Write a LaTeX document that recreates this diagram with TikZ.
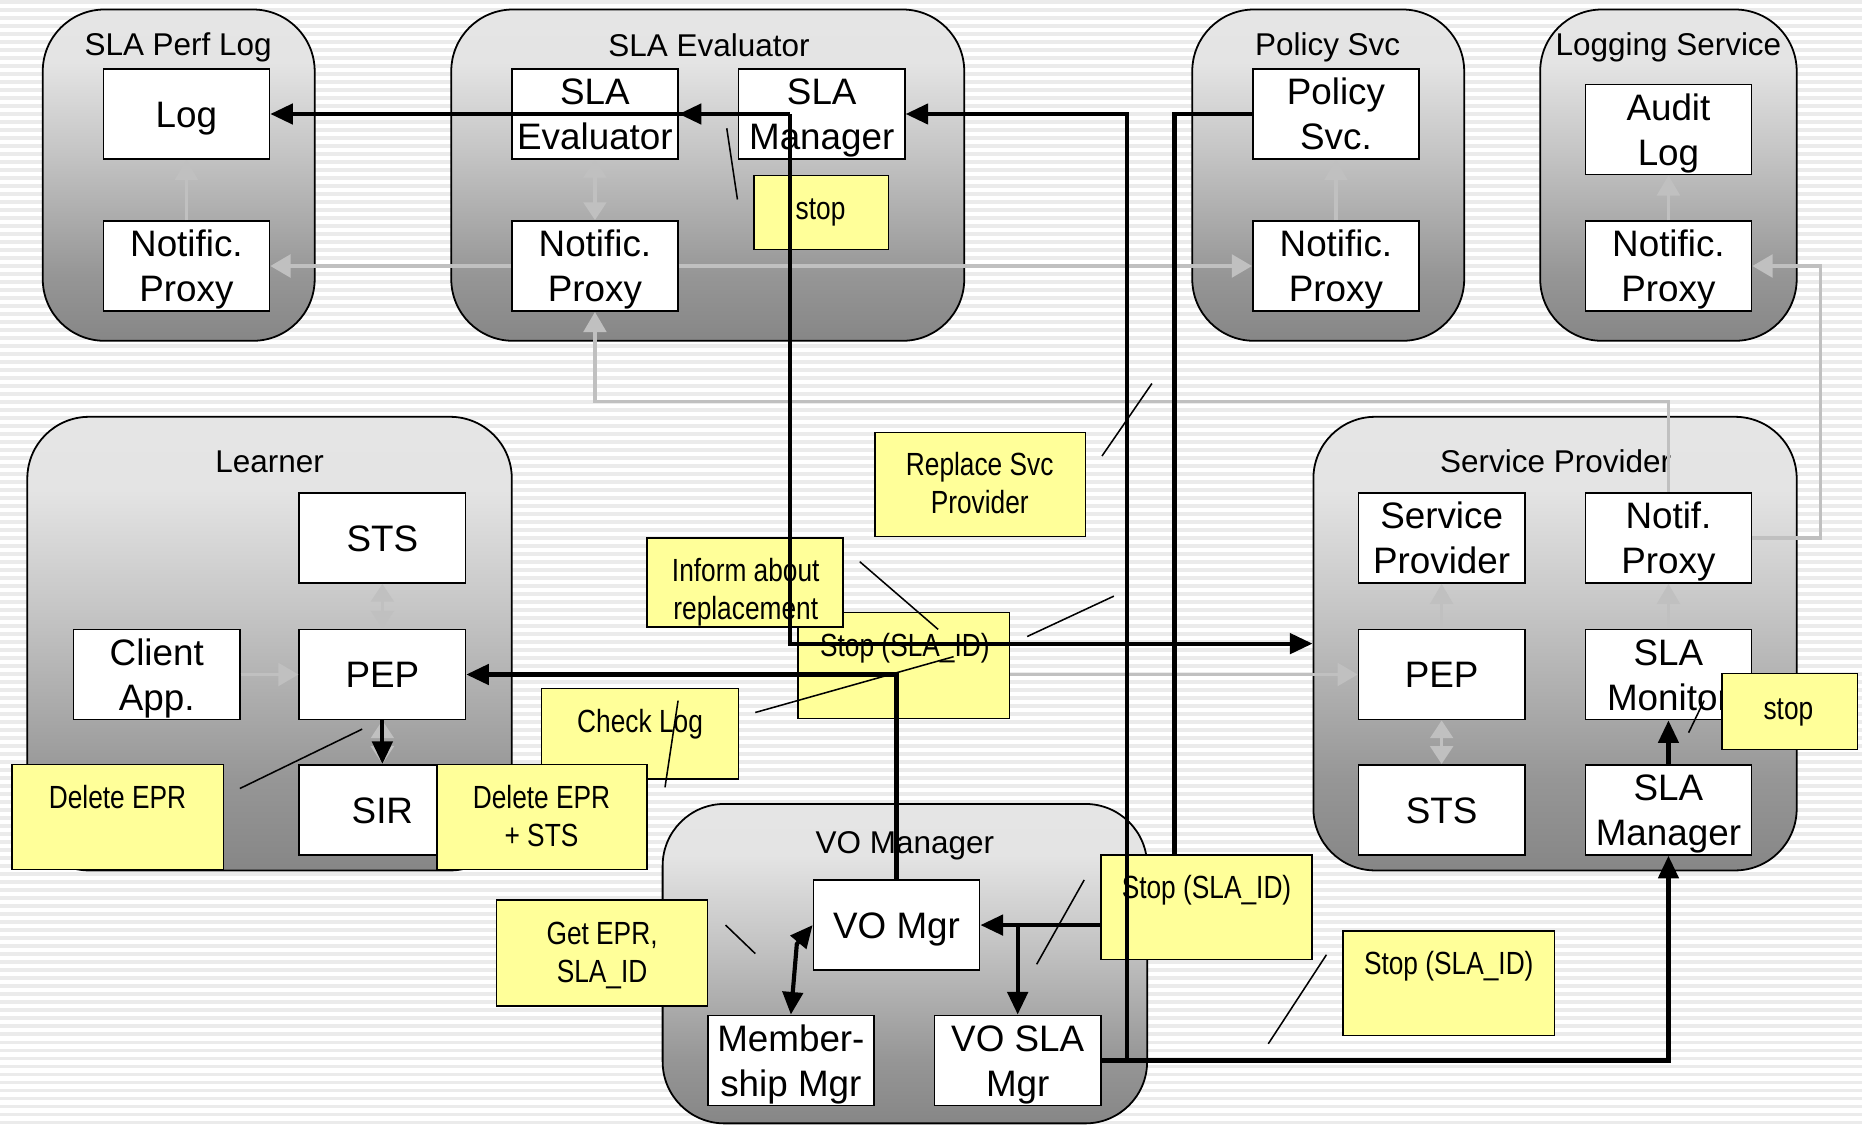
\documentclass[tikz,border=0pt]{standalone}
\usepackage{fontspec}
\setmainfont{Liberation Sans}
\newfontfamily\narrowfont{Liberation Sans}[FakeStretch=0.82]
\usetikzlibrary{arrows.meta}

\definecolor{notefill}{HTML}{FFFF99}
\definecolor{conn}{HTML}{C0C0C0}
\definecolor{stripe}{HTML}{EBEBEB}
\definecolor{csA}{HTML}{6E6E6E}
\definecolor{csB}{HTML}{727272}
\definecolor{csC}{HTML}{969696}
\definecolor{csD}{HTML}{C6C6C6}
\definecolor{csE}{HTML}{E4E4E4}
\definecolor{csF}{HTML}{E8E8E8}
\pgfdeclareverticalshading{contshade}{100bp}{color(0bp)=(csA); color(12bp)=(csB); color(35bp)=(csC); color(54bp)=(csD); color(67bp)=(csE); color(100bp)=(csF)}

\tikzset{
  cont/.style={draw, line width=1.5pt, rounded corners=52pt, shade, shading=contshade, inner sep=0pt},
  box/.style={draw, fill=white, line width=1.3pt, minimum width=140pt, minimum height=76pt,
    inner sep=0pt, align=center, font=\fontsize{31pt}{38pt}\selectfont,
    text height=22.2pt, text depth=0pt},
  boxtwo/.style={box, text height=60.2pt},
  ctitle/.style={inner sep=0pt, font=\fontsize{26.5pt}{32pt}\selectfont, text height=19pt, text depth=0pt},
  note/.style={draw, fill=notefill, line width=1.2pt, inner sep=0pt},
  notetext/.style={inner sep=0pt, align=center, font=\narrowfont\fontsize{27pt}{32pt}\selectfont,
    text height=19.3pt, text depth=0pt},
  notetexttwo/.style={notetext, text height=51.3pt},
  blk/.style={draw=black, line width=3.5pt},
  blkarrow/.style={blk, -{Triangle[length=19pt,width=17pt]}},
  blktwo/.style={blk, {Triangle[length=19pt,width=17pt]}-{Triangle[length=19pt,width=17pt]}},
  gry/.style={draw=conn, line width=3pt},
  gryarrow/.style={gry, -{Triangle[length=17pt,width=19pt]}},
  grytwo/.style={gry, {Triangle[length=15pt,width=19pt]}-{Triangle[length=15pt,width=19pt]}},
  callout/.style={draw=black, line width=1.3pt},
}

\begin{document}
\begin{tikzpicture}[x=1pt,y=-1pt]
  % striped backdrop
  \fill[white] (0,0) rectangle (1568,947);
  \foreach \i in {0,...,140} {
    \fill[stripe] (0,{\i*6.74}) rectangle (1568,{\i*6.74+3.3});
  }
  \useasboundingbox (0,0) rectangle (1568,947);

  % containers
  \node[cont, minimum width=229pt, minimum height=279pt] (cperf) at (150.5,147.5) {};
  \node[cont, minimum width=432pt, minimum height=279pt] (ceval) at (596,147.5) {};
  \node[cont, minimum width=229pt, minimum height=279pt] (cpol) at (1118.5,147.5) {};
  \node[cont, minimum width=216pt, minimum height=279pt] (clog) at (1405,147.5) {};
  \node[cont, minimum width=408pt, minimum height=382pt] (clrn) at (227,542) {};
  \node[cont, minimum width=407pt, minimum height=382pt] (csp) at (1309.5,542) {};
  \node[cont, minimum width=408pt, minimum height=269pt] (cvo) at (762,811.5) {};

  \node[ctitle] (tperf) at (150,37) {SLA Perf Log};
  \node[ctitle] (teval) at (597,38) {SLA Evaluator};
  \node[ctitle] (tpol) at (1118,37) {Policy Svc};
  \node[ctitle] (tlog) at (1405,37) {Logging Service};
  \node[ctitle] (tlrn) at (227,388) {Learner};
  \node[ctitle] (tsp) at (1310,388) {Service Provider};
  \node[ctitle] (tvo) at (762,709) {VO Manager};

  % components
  \node[box] (log) at (157,96) {Log};
  \node[boxtwo] (plnp) at (157,224) {Notific.\\Proxy};
  \node[boxtwo] (evbox) at (501,96) {SLA\\Evaluator};
  \node[boxtwo] (evmgr) at (692,96) {SLA\\Manager};
  \node[boxtwo] (evnp) at (501,224) {Notific.\\Proxy};
  \node[boxtwo] (pol) at (1125,96) {Policy\\Svc.};
  \node[boxtwo] (polnp) at (1125,224) {Notific.\\Proxy};
  \node[boxtwo] (audit) at (1405,109) {Audit\\Log};
  \node[boxtwo] (lognp) at (1405,224) {Notific.\\Proxy};
  \node[box] (stsL) at (322,453) {STS};
  \node[boxtwo] (client) at (132,568) {Client\\App.};
  \node[box] (pepL) at (322,568) {PEP};
  \node[box] (sir) at (322,682) {SIR};
  \node[boxtwo] (spbox) at (1214,453) {Service\\Provider};
  \node[boxtwo] (spnp) at (1405,453) {Notif.\\Proxy};
  \node[box] (pepS) at (1214,568) {PEP};
  \node[boxtwo] (slamon) at (1405,568) {SLA\\Monitor};
  \node[box] (stsS) at (1214,682) {STS};
  \node[boxtwo] (spmgr) at (1405,682) {SLA\\Manager};
  \node[box] (vomgr) at (755,779) {VO Mgr};
  \node[boxtwo] (memb) at (666,893) {Member-\\ship Mgr};
  \node[boxtwo] (vosla) at (857,893) {VO SLA\\Mgr};

  % notification links
  \draw[gryarrow] (plnp) -- (log);
  \draw[gryarrow] (polnp) -- (pol);
  \draw[gryarrow] (lognp) -- (audit);
  \draw[grytwo] (evbox) -- (evnp);
  \draw[gryarrow] (evnp) -- (plnp);
  \draw[gryarrow] (evnp) -- (polnp);
  \draw[gryarrow] (spnp.north) -- (1405,338) -- (501,338) -- (evnp.south);
  \draw[gryarrow] (spnp.east) -- (1533,453) -- (1533,224) -- (lognp.east);
  \draw[gryarrow] (client) -- (pepL);
  \draw[grytwo] (pepL) -- (stsL);
  \draw[grytwo] (pepL) -- (sir);
  \draw[gryarrow] (pepL) -- (pepS);
  \draw[gryarrow] (pepS) -- (spbox);
  \draw[grytwo] (pepS) -- (stsS);
  \draw[gryarrow] (slamon) -- (spnp);

  % policy service to VO manager (runs under the note)
  \coordinate (polturn) at (989,96);
  \draw[blkarrow] (pol.west) -- (polturn) -- (polturn |- vomgr.east) -- (vomgr.east);
  \draw[blkarrow] (vosla.north |- vomgr.east) -- (vosla.north);

  % notes
  \node[note, minimum width=113pt, minimum height=62pt] (nevstop) at (691.5,179) {};
  \node[notetext] (xevstop) at (691,175) {stop};
  \node[note, minimum width=177pt, minimum height=88pt] (nrepl) at (825.5,408) {};
  \node[notetexttwo] (xrepl) at (825,407) {Replace Svc\\Provider};
  \node[note, minimum width=178pt, minimum height=89pt] (nstopm) at (761,560.5) {};
  \node[notetext] (xstopm) at (762,543) {Stop (SLA\_ID)};
  \node[note, minimum width=165pt, minimum height=75pt] (ninform) at (627.5,490.5) {};
  \node[notetexttwo] (xinform) at (628,496) {Inform about\\replacement};
  \node[note, minimum width=166pt, minimum height=76pt] (ncheck) at (539,618) {};
  \node[notetext] (xcheck) at (539,607) {Check Log};
  \node[note, minimum width=178pt, minimum height=88pt] (ndel) at (99,688) {};
  \node[notetext] (xdel) at (99,671) {Delete EPR};
  \node[note, minimum width=177pt, minimum height=88pt] (ndelsts) at (456.5,688) {};
  \node[notetexttwo] (xdelsts) at (456,687) {Delete EPR\\+ STS};
  \node[note, minimum width=178pt, minimum height=89pt] (nget) at (507,802.5) {};
  \node[notetexttwo] (xget) at (507,802) {Get EPR,\\SLA\_ID};
  \node[note, minimum width=178pt, minimum height=88pt] (nstopvo) at (1016,764) {};
  \node[notetext] (xstopvo) at (1016,747) {Stop (SLA\_ID)};
  \node[note, minimum width=178pt, minimum height=88pt] (nstopbr) at (1220,828) {};
  \node[notetext] (xstopbr) at (1220,811) {Stop (SLA\_ID)};
  \node[note, minimum width=114pt, minimum height=64pt] (nspstop) at (1507,599) {};
  \node[notetext] (xspstop) at (1506,596) {stop};

  % control messages
  \coordinate (evturn) at (665,96);
  \coordinate (vojoin) at (949,893);
  \coordinate (mgrturn) at (949,96);
  \draw[blkarrow] (evturn) -- (log.east);
  \draw[blkarrow] (evturn) -- (evbox.east);
  \draw[blkarrow] (evturn) -- (evturn |- csp.west) -- (csp.west);
  \draw[blkarrow] (vomgr.north) -- (vomgr.north |- pepL.east) -- (pepL.east);
  \draw[blkarrow] (vosla.east) -- (spmgr.south |- vosla.east) -- (spmgr.south);
  \draw[blkarrow] (vojoin) -- (mgrturn) -- (evmgr.east);
  \draw[blktwo] (memb.north) -- (671,795) -- (vomgr.west);
  \draw[blkarrow] (pepL.south) -- (sir.north);
  \draw[blkarrow] (spmgr.north) -- (slamon.south);

  % note pointers
  \draw[callout] (612,108) -- (621,168);
  \draw[callout] (928,384) -- (970,323);
  \draw[callout] (724,473) -- (790,530);
  \draw[callout] (865,536) -- (938,502);
  \draw[callout] (636,600) -- (803,553);
  \draw[callout] (571,590) -- (560,663);
  \draw[callout] (202,664) -- (305,614);
  \draw[callout] (611,779) -- (636,803);
  \draw[callout] (873,812) -- (913,741);
  \draw[callout] (1068,879) -- (1117,804);
  \draw[callout] (1422,617) -- (1435,590);
\end{tikzpicture}
\end{document}
